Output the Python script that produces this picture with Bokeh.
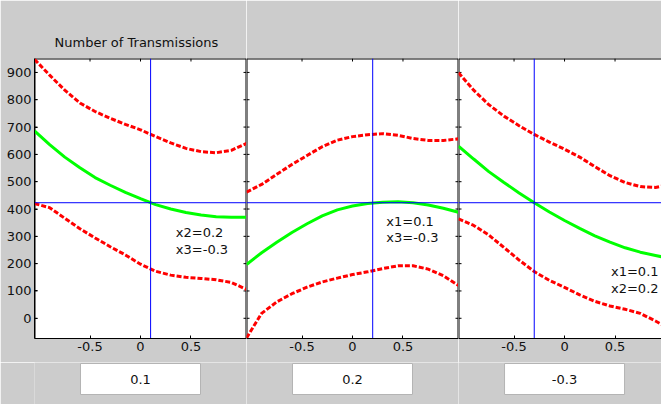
from bokeh.plotting import figure
from bokeh.models import Range1d, FixedTicker, LinearAxis, Title
from bokeh.layouts import row, column
from bokeh.embed import file_html
from bokeh.resources import INLINE
from bokeh.core.properties import value

# ---------------- data ----------------
x_grid = [-1.05, -0.9, -0.75, -0.6, -0.45, -0.3, -0.15, 0.0, 0.15, 0.3, 0.45, 0.6, 0.75, 0.9, 1.05]

# panel 1 (x1)
p1_upper = [948, 890, 835, 788, 757, 732, 710, 690, 665, 642, 622, 610, 606, 615, 640]
p1_pred = [686, 636, 590, 551, 515, 487, 461, 438, 416, 400, 387, 378, 372, 370, 370]
p1_lower = [420, 405, 366, 328, 294, 262, 232, 198, 172, 158, 150, 146, 141, 131, 106]

# panel 2 (x2)
p2_upper = [462, 490, 527, 563, 596, 628, 652, 665, 672, 676, 670, 658, 651, 651, 657]
p2_pred = [197, 240, 278, 314, 346, 375, 397, 411, 420, 425, 427, 423, 415, 403, 388]
p2_lower = [-72, 18, 60, 90, 114, 133, 147, 160, 170, 182, 192, 192, 180, 156, 120]

# panel 3 (x3)
p3_upper = [899, 835, 782, 740, 705, 673, 645, 619, 590, 555, 522, 497, 482, 479, 490]
p3_pred = [630, 583, 537, 497, 459, 423, 389, 358, 329, 302, 279, 258, 242, 230, 218]
p3_lower = [364, 340, 305, 259, 213, 171, 139, 113, 86, 62, 45, 33, 18, -10, -40]

factor_names = ["x1", "x2", "x3"]
current_x = [0.1, 0.2, -0.3]
current_y = 423

y_ticks = [0, 100, 200, 300, 400, 500, 600, 700, 800, 900]
x_ticks = [-0.5, 0, 0.5]
x_tick_labels = ["-0.5", "0", "0.5"]
title_text = "Number of Transmissions"

# ---------------- style ----------------
GRAY = "#cccccc"
FONT = "DejaVu Sans"
FS = "13px"
TXT = "#111111"

uppers = [p1_upper, p2_upper, p3_upper]
preds = [p1_pred, p2_pred, p3_pred]
lowers = [p1_lower, p2_lower, p3_lower]

X0, X1, Y0, Y1 = -1.05, 1.05, -74, 951
FRAME_W, FRAME_H = 212, 280
TICK_PX = 3
tick_dx = TICK_PX * (X1 - X0) / FRAME_W
tick_dy = TICK_PX * (Y1 - Y0) / FRAME_H

widths = [246, 212, 203]
borders_left = [34, 0, 0]
x_ends = [X1, X1, 0.96]
label_pos = [(0.35, 315, 251), (0.335, 355, 295), (0.46, 172, 110)]


def label_axis(ticks, overrides=None):
    ax = LinearAxis(ticker=FixedTicker(ticks=ticks))
    ax.major_tick_in = TICK_PX
    ax.major_tick_out = 0
    ax.minor_tick_in = 0
    ax.minor_tick_out = 0
    ax.axis_line_color = "black"
    ax.major_tick_line_color = "black"
    ax.major_label_text_font = FONT
    ax.major_label_text_font_size = FS
    ax.major_label_text_color = TXT
    ax.major_label_standoff = 3
    if overrides:
        ax.major_label_overrides = overrides
    return ax


tops = []
bottoms = []
for i in range(3):
    xe = x_ends[i]
    xr = Range1d(X0, xe)
    p = figure(width=widths[i], height=362, x_range=xr, y_range=Range1d(Y0, Y1),
               output_backend="svg", toolbar_location=None,
               x_axis_location=None, y_axis_location=None,
               min_border_left=borders_left[i], min_border_right=0,
               min_border_top=58, min_border_bottom=24)
    p.background_fill_color = "white"
    p.border_fill_color = GRAY
    p.outline_line_color = None
    p.grid.grid_line_color = None
    if i == 0:
        p.title = Title(text=title_text, align="left", offset=20, standoff=17,
                        text_font=FONT, text_font_size=FS, text_font_style="normal",
                        text_color=TXT)
        p.add_layout(label_axis(y_ticks), "left")
    p.add_layout(label_axis(x_ticks, dict(zip(x_ticks, x_tick_labels))), "below")

    # frame edges (half of the 2px stroke is clipped away) and inward ticks
    ex0, ey0, ex1, ey1 = [X0, X0], [Y1, Y0], [xe, X0], [Y1, Y1]
    if i < 2:
        ex0.append(xe); ey0.append(Y0); ex1.append(xe); ey1.append(Y1)
    p.segment(x0=ex0, y0=ey0, x1=ex1, y1=ey1, line_color="black", line_width=2)
    n = len(y_ticks)
    p.segment(x0=[X0] * n, y0=y_ticks, x1=[X0 + tick_dx] * n, y1=y_ticks, line_color="black", line_width=1)
    if i < 2:
        p.segment(x0=[X1] * n, y0=y_ticks, x1=[X1 - tick_dx] * n, y1=y_ticks, line_color="black", line_width=1)
    m = len(x_ticks)
    p.segment(x0=x_ticks, y0=[Y1] * m, x1=x_ticks, y1=[Y1 - tick_dy] * m, line_color="black", line_width=1)

    p.line(x_grid, uppers[i], line_color="#ff0000", line_width=3, line_dash="5 2")
    p.line(x_grid, lowers[i], line_color="#ff0000", line_width=3, line_dash="5 2")
    p.line(x_grid, preds[i], line_color="#00ff00", line_width=3)

    others = [j for j in range(3) if j != i]
    lx, ly1, ly2 = label_pos[i]
    p.text(x=[lx, lx], y=[ly1, ly2],
           text=[f"{factor_names[j]}={current_x[j]}" for j in others],
           text_font=value(FONT), text_font_size=FS, text_color=TXT,
           text_align="left", text_baseline="middle")

    # current setting cross-hair
    p.segment(x0=[X0, current_x[i]], y0=[current_y, Y0], x1=[xe, current_x[i]], y1=[current_y, Y1],
              line_color="#0000ff", line_width=1)
    tops.append(p)

    b = figure(width=widths[i], height=42, x_range=xr, y_range=Range1d(0, 42),
               output_backend="svg", toolbar_location=None,
               x_axis_location=None, y_axis_location=None,
               min_border_left=borders_left[i], min_border_right=0,
               min_border_top=0, min_border_bottom=0)
    b.background_fill_color = GRAY
    b.border_fill_color = GRAY
    b.outline_line_color = None
    b.grid.grid_line_color = None
    b.rect(x=[0], y=[25.5], width=120, height=31, width_units="screen", height_units="screen",
           fill_color="white", line_color="#b4b4b4", line_width=1)
    b.text(x=[0], y=[25.5], text=[str(current_x[i])], text_font=value(FONT), text_font_size=FS,
           text_color=TXT, text_align="center", text_baseline="middle")
    bottoms.append(b)

layout = column(row(*tops), row(*bottoms))

open("out.html", "w").write(file_html(layout, INLINE))
